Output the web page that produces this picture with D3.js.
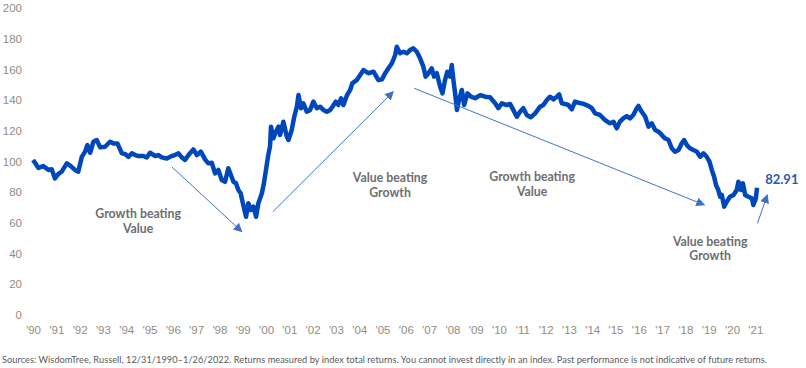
<!DOCTYPE html>
<html>
<head>
<meta charset="utf-8">
<script src="https://cdn.jsdelivr.net/npm/d3@7"></script>
<style>
  body { margin: 0; background: #fff; }
  svg { display: block; font-family: Lato, "Open Sans", sans-serif; }
  .axis text { fill: #958b82; font-size: 11.5px; }
  .note { fill: #6d6e71; font-size: 12.3px; font-weight: bold; }
</style>
</head>
<body>
<script>
// value / growth ratio (decimal year, index level)
const years = [1991.00,1991.09,1991.23,1991.44,1991.66,1991.80,1991.94,1992.09,1992.23,1992.45,1992.62,1992.80,1992.94,
  1993.09,1993.23,1993.33,1993.45,1993.59,1993.73,1993.88,1994.09,1994.30,1994.45,1994.62,1994.81,1994.95,
  1995.09,1995.24,1995.38,1995.52,1995.73,1995.88,1996.02,1996.24,1996.38,1996.52,1996.74,1996.95,
  1997.09,1997.24,1997.38,1997.52,1997.67,1997.88,1998.03,1998.20,1998.38,1998.52,1998.67,1998.81,1998.95,
  1999.10,1999.24,1999.38,1999.49,1999.60,1999.71,1999.81,1999.91,2000.00,2000.14,2000.24,2000.34,2000.46,
  2000.57,2000.67,2000.82,2000.91,2001.00,2001.09,2001.17,2001.21,2001.31,2001.42,2001.53,2001.60,2001.74,
  2001.89,2001.96,2002.10,2002.21,2002.32,2002.39,2002.50,2002.60,2002.75,2002.89,2003.03,2003.18,2003.32,
  2003.46,2003.61,2003.75,2003.85,2003.99,2004.10,2004.22,2004.32,2004.46,2004.61,2004.70,2004.89,2005.18,
  2005.39,2005.61,2005.82,2005.97,2006.11,2006.25,2006.40,2006.54,2006.61,2006.75,2006.89,2007.04,2007.18,
  2007.32,2007.47,2007.61,2007.75,2007.85,2007.97,2008.11,2008.21,2008.33,2008.47,2008.57,2008.68,2008.78,
  2008.90,2008.97,2009.04,2009.11,2009.19,2009.28,2009.40,2009.50,2009.64,2009.79,2009.97,2010.19,2010.40,
  2010.61,2010.83,2010.97,2011.12,2011.33,2011.47,2011.61,2011.76,2011.90,2012.04,2012.19,2012.36,2012.55,
  2012.76,2012.90,2013.05,2013.19,2013.33,2013.48,2013.58,2013.69,2013.83,2013.97,2014.12,2014.26,2014.40,
  2014.62,2014.83,2014.98,2015.12,2015.33,2015.55,2015.76,2015.91,2016.05,2016.19,2016.33,2016.48,2016.62,
  2016.76,2016.91,2016.98,2017.12,2017.27,2017.41,2017.55,2017.70,2017.84,2017.98,2018.12,2018.27,2018.41,
  2018.55,2018.70,2018.84,2018.94,2019.06,2019.20,2019.34,2019.49,2019.63,2019.77,2019.91,2020.03,2020.13,
  2020.23,2020.31,2020.41,2020.49,2020.56,2020.66,2020.77,2020.91,2021.06,2021.20,2021.27,2021.38,2021.46,
  2021.56,2021.70,2021.85,2021.91,2022.02,2022.07];
const ratio = [101,99,95.8,97,94.5,95,89,92,93.4,98.8,97,94.5,93.4,
  103,106.4,110.7,105.7,112.9,114,109.2,109.6,112.9,111.8,111.8,105.3,104.9,
  103,105.3,104.2,103.6,103.6,102.7,105.7,103.6,104.2,102.7,102,103.6,
  104.2,105.3,102.7,101,104.2,107.9,104.2,106.4,101.4,98.8,99.2,92.3,94.5,
  88,86.8,95.6,91.2,86.8,85.8,81.4,79.3,73.2,64,72.8,68.4,70.6,
  64,72.8,79.3,86,95,104,110,122.7,115.1,119.4,122.7,117.3,125.9,
  116.2,114,120.5,129.2,135.7,143.3,134.7,137.9,132.4,133.6,139,134.7,135.7,
  133.6,132.4,133.6,135.7,139,136.8,141.2,136.8,142.7,146.6,150.9,153,159.6,
  157.5,158.5,153,153.5,157.5,160.7,164,169.4,174.8,170.5,171.5,170.5,172.6,
  173.7,171.5,167.2,161.8,155.3,157.5,160.7,155.3,157.5,148.7,144.4,153,158.5,
  155.3,162.9,153,144.4,133.6,140.1,146.6,136.8,144.4,142.2,141.2,143.3,142.2,
  141.8,137.9,134.7,137.9,136.8,137.5,133.6,129.2,132.4,134.7,130.3,128.8,131.4,
  135.7,136.8,140.1,142.2,140.5,142.2,143.8,137.9,137.5,136.8,134,139,138.4,
  137.5,136.2,134.7,131.4,130.3,127,124.9,125.9,121.6,126,128.1,129.6,128.1,
  130.3,134.7,136.2,132.4,129.2,122.7,124.9,120.5,119.4,117.3,115.1,114,108.6,
  106.4,107.5,111.9,114,110.7,108.6,107.5,106.4,103.1,105.3,103.1,99.9,94.5,
  90.1,84.7,81.4,77,78.2,70.6,73.8,77,78.2,81.4,86.8,81.4,85.8,
  78.2,77,76,71.7,76,82.91];

const yTicks = [0,20,40,60,80,100,120,140,160,180,200];
const tickYears = d3.range(1990, 2022);
const lastLabel = "82.91";
const footnote = "Sources: WisdomTree, Russell, 12/31/1990\u20131/26/2022. Returns measured by index total returns. You cannot invest directly in an index. Past performance is not indicative of future returns.";

// annotations in data units: arrow [from, to], text lines at a centre point
const arrows = [
  [[1996.95, 96.6], [1999.96, 54.3]],
  [[2001.29, 67.3], [2006.46, 145.5]],
  [[2007.36, 147.7], [2019.81, 71.7]],
  [[2022.09, 59.7], [2022.51, 78.2]]
];
const notes = [
  {at: [1995.51, 65.6], lines: ["Growth beating", "Value"]},
  {at: [2006.32, 89.0], lines: ["Value beating", "Growth"]},
  {at: [2012.42, 89.7], lines: ["Growth beating", "Value"]},
  {at: [2020.06, 47.8], lines: ["Value beating", "Growth"]}
];

const W = 806, H = 368;
const toDate = (yr) => {
  let y0 = Math.floor(yr);
  return new Date(new Date(y0, 0, 1).getTime() + (yr - y0) * 365.25 * 864e5);
};

const x = d3.scaleTime().domain([new Date(1990, 11, 31), new Date(2022, 0, 26)]).range([33, 757]);
const y = d3.scaleLinear().domain([0, 200]).range([315, 8]);

const svg = d3.select("body").append("svg").attr("width", W).attr("height", H);

svg.append("defs").append("marker")
  .attr("id", "head")
  .attr("viewBox", "0 0 10 10")
  .attr("refX", 9).attr("refY", 5)
  .attr("markerWidth", 9).attr("markerHeight", 9)
  .attr("markerUnits", "userSpaceOnUse")
  .attr("orient", "auto")
  .append("path").attr("d", "M0,0L10,5L0,10z").attr("fill", "#3f6fc6");

// y axis
let yAxis = svg.append("g").attr("class", "axis")
  .attr("transform", "translate(24,0)")
  .call(d3.axisLeft(y).tickValues(yTicks).tickSize(0).tickPadding(2));
yAxis.select(".domain").remove();
yAxis.selectAll("text").attr("font-family", null).attr("font-size", null);

// x axis
let xAxis = svg.append("g").attr("class", "axis")
  .attr("transform", "translate(0,323)")
  .call(d3.axisBottom(x)
    .tickValues(tickYears.map(yr => new Date(yr, 11, 31)))
    .tickFormat(d => "'" + d3.timeFormat("%y")(d))
    .tickSize(0).tickPadding(3));
xAxis.select(".domain").remove();
xAxis.selectAll("text").attr("font-family", null).attr("font-size", null);

// series
let pts = years.map((yr, i) => [toDate(yr), ratio[i]]);
svg.append("path")
  .datum(pts)
  .attr("fill", "none")
  .attr("stroke", "#0047bb")
  .attr("stroke-width", 4.5)
  .attr("stroke-linejoin", "round")
  .attr("d", d3.line().x(d => x(d[0])).y(d => y(d[1])));

// arrows
svg.selectAll(".arrow")
  .data(arrows)
  .enter()
  .append("line")
  .attr("class", "arrow")
  .attr("x1", d => x(toDate(d[0][0]))).attr("y1", d => y(d[0][1]))
  .attr("x2", d => x(toDate(d[1][0]))).attr("y2", d => y(d[1][1]))
  .attr("stroke", "#4472c4")
  .attr("stroke-width", 1)
  .attr("marker-end", "url(#head)");

// notes
let noteG = svg.selectAll(".note")
  .data(notes)
  .enter()
  .append("text")
  .attr("class", "note")
  .attr("text-anchor", "middle");
noteG.selectAll("tspan")
  .data(d => d.lines.map((t, i) => ({t: t, i: i, at: d.at})))
  .enter()
  .append("tspan")
  .attr("x", d => x(toDate(d.at[0])))
  .attr("y", d => y(d.at[1]) + 4 + d.i * 14.5)
  .text(d => d.t);

svg.append("text")
  .attr("x", x(toDate(2022.42)))
  .attr("y", y(88.6) + 5)
  .attr("fill", "#2a58b4")
  .attr("font-size", "13px")
  .attr("font-weight", "bold")
  .text(lastLabel);

svg.append("text")
  .attr("x", 2)
  .attr("y", 363)
  .attr("fill", "#595959")
  .attr("font-size", "9.2px")
  .attr("textLength", 765)
  .attr("lengthAdjust", "spacing")
  .text(footnote);
</script>
</body>
</html>
